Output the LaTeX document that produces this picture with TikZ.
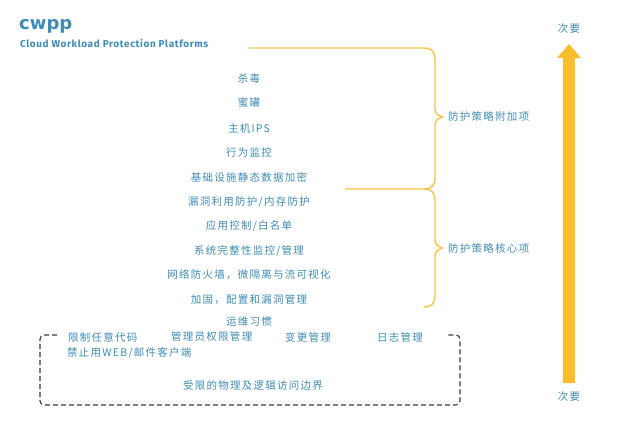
\documentclass[tikz,border=0pt]{standalone}
\usepackage{fontspec}
\setmainfont{Noto Sans CJK SC}
\newfontfamily\latinf[LetterSpace=6]{Fira Sans}
\newfontfamily\latintitle{DejaVu Sans}
\newfontfamily\cjkf[LetterSpace=12]{Noto Sans CJK SC}
\definecolor{txtblue}{RGB}{62,140,182}
\definecolor{braceyel}{RGB}{246,196,70}
\definecolor{arrowyel}{RGB}{250,190,44}
\definecolor{boxnavy}{RGB}{45,62,80}
\tikzset{
  item/.style={text=txtblue, font=\cjkf\fontsize{10.5}{12}\selectfont, inner sep=0pt},
  bracepath/.style={draw=braceyel, line width=1.4pt, line join=round},
  dashbox/.style={draw=boxnavy, line width=1.1pt, dash pattern=on 5pt off 3pt, rounded corners=4pt},
}
\begin{document}
\begin{tikzpicture}[x=1pt,y=-1pt]
\useasboundingbox (0,0) rectangle (621,422);
% title
\node[anchor=base west, text=txtblue, font=\latintitle\bfseries\fontsize{18}{22}\selectfont, inner sep=0pt] (title) at (19,30) {cwpp};
\node[anchor=west, text=txtblue, font=\latinf\bfseries\fontsize{10}{12}\selectfont, inner sep=0pt] (subtitle) at (20,44) {Cloud Workload Protection Platforms};
% items
\node[item] (i1) at (249,78) {杀毒};
\node[item] (i2) at (249,103) {蜜罐};
\node[item] (i3) at (249,129) {主机IPS};
\node[item] (i4) at (249,153) {行为监控};
\node[item] (i5) at (249,177) {基础设施静态数据加密};
\node[item] (i6) at (249,202) {漏洞利用防护/内存防护};
\node[item] (i7) at (249,226) {应用控制/白名单};
\node[item] (i8) at (249,251) {系统完整性监控/管理};
\node[item] (i9) at (249,275) {网络防火墙，微隔离与流可视化};
\node[item] (i10) at (249,300) {加固，配置和漏洞管理};
\node[item] (i11) at (249,322) {运维习惯};
% braces
\coordinate (b1s) at (249,48);
\coordinate (b1e) at (345,189);
\coordinate (b1tip) at (443,117);
\coordinate (b2tip) at (443,248);
\draw[bracepath] (b1s) -- (424,48) .. controls (432,48) and (435,52) .. (435,60) -- (435,109)
  .. controls (435,113) and (438,116) .. (b1tip) .. controls (438,118) and (435,121) .. (435,125)
  -- (435,178) .. controls (435,185) and (432,189) .. (424,189) -- (b1e);
\draw[bracepath] (424,189) .. controls (432,189) and (435,193) .. (435,200) -- (435,240)
  .. controls (435,244) and (438,247) .. (b2tip) .. controls (438,249) and (435,252) .. (435,256)
  -- (435,296) .. controls (435,303) and (432,307) .. (424,307);
\node[item, anchor=west] (l1) at (448,117) {防护策略附加项};
\node[item, anchor=west] (l2) at (448,248) {防护策略核心项};
% dashed box
\draw[dashbox] (57,335) -- (40,335) -- (40,405) -- (460,405) -- (460,335) -- (446,335);
\node[item, anchor=west] (d1) at (68,337) {限制任意代码};
\node[item, anchor=west] (d2) at (171,337) {管理员权限管理};
\node[item, anchor=west] (d3) at (285,337) {变更管理};
\node[item, anchor=west] (d4) at (377,337) {日志管理};
\node[item, anchor=west] (d5) at (67,353) {禁止用WEB/邮件客户端};
\node[item] (d6) at (253,386) {受限的物理及逻辑访问边界};
% arrow
\fill[arrowyel] (563,383) -- (563,58) -- (557,58) -- (569,44) -- (581,58) -- (575,58) -- (575,383) -- cycle;
\node[item] (top) at (569,29) {次要};
\node[item] (bot) at (569,397) {次要};
\end{tikzpicture}
\end{document}
